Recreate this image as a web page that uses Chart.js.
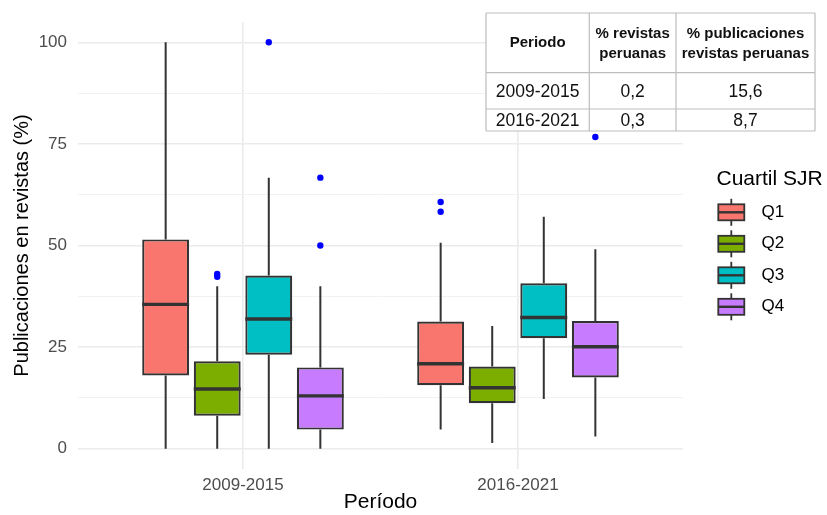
<!DOCTYPE html>
<html>
<head>
<meta charset="utf-8">
<title>Publicaciones por cuartil SJR</title>
<script src="https://cdn.jsdelivr.net/npm/chart.js@4.4.1/dist/chart.umd.min.js"></script>
<style>
  html, body { margin: 0; padding: 0; background: #ffffff; }
  canvas { display: block; }
</style>
</head>
<body>
<canvas id="chart" width="827" height="515"></canvas>
<script>
// Periods on the x axis and SJR quartile groups
const periods = ['2009-2015', '2016-2021'];
const quartiles = ['Q1', 'Q2', 'Q3', 'Q4'];
const quartileColors = ['#F8766D', '#7CAE00', '#00BFC4', '#C77CFF'];

// Box statistics: one row per quartile, one value per period
const whiskerLow  = [[0, 4.7],     [0, 1.4],     [0, 12.2],    [0, 3.0]];
const lowerHinge  = [[18.0, 15.6], [8.1, 11.2],  [23.1, 27.2], [4.7, 17.5]];
const medians     = [[35.5, 20.9], [14.7, 15.0], [31.9, 32.3], [13.0, 25.1]];
const upperHinge  = [[51.5, 31.3], [21.5, 20.2], [42.6, 40.7], [20.0, 31.4]];
const whiskerHigh = [[100, 50.7],  [40, 30.2],   [66.7, 57.1], [40, 49.1]];
const outliers    = [[[], [60.7, 58.3]], [[43.0, 42.3], []], [[100], []], [[66.7, 50.0], [76.7]]];

// Axis ticks
const yTicks = [0, 25, 50, 75, 100];
const yMinorTicks = [12.5, 37.5, 62.5, 87.5];

// Summary table of Peruvian journals
const tableHeader = ['Periodo', '% revistas\nperuanas', '% publicaciones\nrevistas peruanas'];
const pctJournals = ['0,2', '0,3'];
const pctPublications = ['15,6', '8,7'];

const FONT = "'Liberation Sans', Arial, Helvetica, sans-serif";
Chart.defaults.font.family = FONT;

const LINE = '#333333';

const datasets = quartiles.map((q, qi) => ({
  label: q,
  data: periods.map((p, pi) => ({ x: pi + 1, y: [lowerHinge[qi][pi], upperHinge[qi][pi]] })),
  backgroundColor: quartileColors[qi],
  borderColor: LINE,
  borderWidth: 2.2,
  borderSkipped: false,
  categoryPercentage: 0.75,
  barPercentage: 0.91
}));

// Whiskers behind the boxes; medians and outlier points on top
const boxplotParts = {
  id: 'boxplotParts',
  beforeDatasetsDraw(chart) {
    const ctx = chart.ctx, ys = chart.scales.y;
    ctx.save();
    ctx.strokeStyle = LINE;
    ctx.lineWidth = 2;
    quartiles.forEach((q, qi) => {
      chart.getDatasetMeta(qi).data.forEach((bar, pi) => {
        ctx.beginPath();
        ctx.moveTo(bar.x, ys.getPixelForValue(upperHinge[qi][pi]));
        ctx.lineTo(bar.x, ys.getPixelForValue(whiskerHigh[qi][pi]));
        ctx.moveTo(bar.x, ys.getPixelForValue(lowerHinge[qi][pi]));
        ctx.lineTo(bar.x, ys.getPixelForValue(whiskerLow[qi][pi]));
        ctx.stroke();
      });
    });
    ctx.restore();
  },
  afterDatasetsDraw(chart) {
    const ctx = chart.ctx, ys = chart.scales.y;
    ctx.save();
    quartiles.forEach((q, qi) => {
      chart.getDatasetMeta(qi).data.forEach((bar, pi) => {
        const half = bar.width / 2;
        const my = ys.getPixelForValue(medians[qi][pi]);
        ctx.strokeStyle = LINE;
        ctx.lineWidth = 3.4;
        ctx.beginPath();
        ctx.moveTo(bar.x - half, my);
        ctx.lineTo(bar.x + half, my);
        ctx.stroke();
        ctx.fillStyle = '#0000FF';
        outliers[qi][pi].forEach(v => {
          ctx.beginPath();
          ctx.arc(bar.x, ys.getPixelForValue(v), 3.2, 0, Math.PI * 2);
          ctx.fill();
        });
      });
    });
    ctx.restore();
  },
  afterDraw(chart) {
    const ctx = chart.ctx;
    ctx.save();

    // Legend
    ctx.fillStyle = '#000000';
    ctx.textBaseline = 'middle';
    ctx.textAlign = 'left';
    ctx.font = '21px ' + FONT;
    ctx.fillText('Cuartil SJR', 716.5, 179);
    quartiles.forEach((q, qi) => {
      const cy = 212.3 + qi * 31.5;
      const cx = 731.3;
      ctx.strokeStyle = LINE;
      ctx.lineWidth = 1.8;
      ctx.beginPath();
      ctx.moveTo(cx, cy - 13.5);
      ctx.lineTo(cx, cy + 13.5);
      ctx.stroke();
      ctx.fillStyle = quartileColors[qi];
      ctx.fillRect(718.3, cy - 8, 26, 16);
      ctx.strokeRect(718.3, cy - 8, 26, 16);
      ctx.lineWidth = 2.4;
      ctx.beginPath();
      ctx.moveTo(718.3, cy);
      ctx.lineTo(744.3, cy);
      ctx.stroke();
      ctx.fillStyle = '#000000';
      ctx.font = '17px ' + FONT;
      ctx.fillText(q, 761.5, cy);
    });

    // Summary table drawn over the panel
    const cols = [486, 589.3, 676, 815];
    const rows = [13, 72.7, 109, 131];
    ctx.fillStyle = '#ffffff';
    ctx.fillRect(cols[0], rows[0], cols[3] - cols[0], rows[3] - rows[0]);
    ctx.strokeStyle = '#BDBDBD';
    ctx.lineWidth = 1.2;
    ctx.beginPath();
    rows.forEach(y => { ctx.moveTo(cols[0], y); ctx.lineTo(cols[3], y); });
    cols.forEach(x => { ctx.moveTo(x, rows[0]); ctx.lineTo(x, rows[3]); });
    ctx.stroke();

    ctx.fillStyle = '#111111';
    ctx.textAlign = 'center';
    ctx.font = 'bold 15px ' + FONT;
    tableHeader.forEach((h, ci) => {
      const cx = (cols[ci] + cols[ci + 1]) / 2;
      const lines = h.split('\n');
      if (lines.length === 1) {
        ctx.fillText(lines[0], cx, 43.3);
      } else {
        ctx.fillText(lines[0], cx, 34);
        ctx.fillText(lines[1], cx, 53.5);
      }
    });
    ctx.font = '17.5px ' + FONT;
    const rowY = [91.7, 121];
    periods.forEach((p, ri) => {
      const cells = [p, pctJournals[ri], pctPublications[ri]];
      cells.forEach((t, ci) => {
        ctx.fillText(t, (cols[ci] + cols[ci + 1]) / 2, rowY[ri]);
      });
    });
    ctx.restore();
  }
};

new Chart(document.getElementById('chart'), {
  type: 'bar',
  data: { datasets },
  options: {
    responsive: false,
    animation: false,
    layout: { padding: { top: 22, right: 144, bottom: 0, left: 0 } },
    plugins: { legend: { display: false }, tooltip: { enabled: false } },
    scales: {
      x: {
        type: 'linear',
        min: 0.4,
        max: 2.6,
        offset: false,
        bounds: 'data',
        afterBuildTicks: s => { s.ticks = periods.map((p, i) => ({ value: i + 1 })); },
        afterFit: s => { s.height = 46; s.paddingLeft = 0; s.paddingRight = 0; },
        ticks: {
          padding: 6,
          color: '#4D4D4D',
          font: { size: 17 },
          autoSkip: false,
          maxRotation: 0,
          callback: v => periods[Math.round(v) - 1] ?? ''
        },
        grid: { offset: false, drawTicks: false, color: '#EBEBEB', lineWidth: 1.6 },
        border: { display: false },
        title: { display: true, text: 'Período', color: '#000000', font: { size: 21 }, padding: { top: 0, bottom: 0 } }
      },
      y: {
        type: 'linear',
        min: -5,
        max: 105,
        bounds: 'data',
        afterBuildTicks: s => {
          s.ticks = [...yTicks, ...yMinorTicks].sort((a, b) => a - b).map(v => ({ value: v }));
        },
        afterFit: s => { s.width = 78; s.paddingTop = 0; s.paddingBottom = 0; },
        ticks: {
          padding: 11,
          color: '#4D4D4D',
          font: { size: 17 },
          autoSkip: false,
          callback: v => yTicks.includes(v) ? String(v) : ''
        },
        grid: {
          drawTicks: false,
          color: c => (c.tick && yTicks.includes(c.tick.value)) ? '#EBEBEB' : '#F2F2F2',
          lineWidth: c => (c.tick && yTicks.includes(c.tick.value)) ? 1.6 : 1
        },
        border: { display: false },
        title: { display: true, text: 'Publicaciones en revistas (%)', color: '#000000', font: { size: 20 }, padding: { top: 10, bottom: 0 } }
      }
    }
  },
  plugins: [boxplotParts]
});
</script>
</body>
</html>
